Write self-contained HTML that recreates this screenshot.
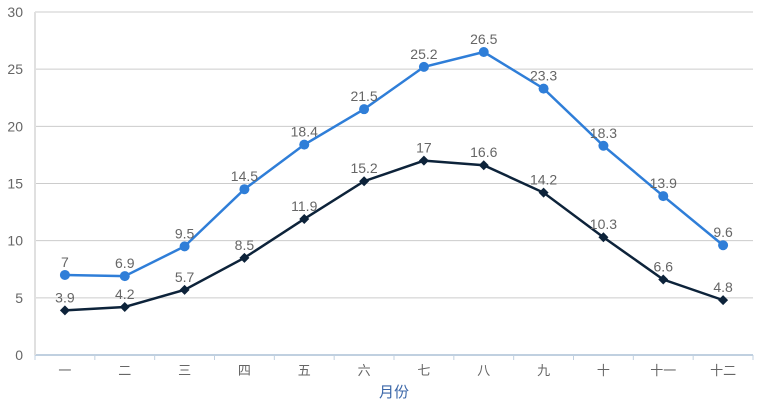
<!DOCTYPE html>
<html><head><meta charset="utf-8"><style>
body{margin:0;background:#fff;}
svg{display:block;font-family:"Liberation Sans","Noto Sans CJK SC",sans-serif;}
</style></head><body>
<svg id="c" width="763" height="402"></svg>
<script>
const categories=["一","二","三","四","五","六","七","八","九","十","十一","十二"];
const highValues=[7,6.9,9.5,14.5,18.4,21.5,25.2,26.5,23.3,18.3,13.9,9.6];
const lowValues=[3.9,4.2,5.7,8.5,11.9,15.2,17,16.6,14.2,10.3,6.6,4.8];
const yTicks=[0,5,10,15,20,25,30];
const NS="http://www.w3.org/2000/svg";
const svg=document.getElementById('c');
const L=35,R=753,T=12,B=355;
const bw=(R-L)/categories.length;
const x=i=>L+bw*(i+0.5);
const y=v=>B-(v/30)*(B-T);
function el(t,a,p){const e=document.createElementNS(NS,t);for(const k in a)e.setAttribute(k,a[k]);(p||svg).appendChild(e);return e;}
yTicks.forEach(t=>{
  const g=el('line',{x1:L,x2:R,y1:y(t),y2:y(t),stroke:'#ccc','stroke-width':1});
  
  
  const tx=el('text',{x:L-12,y:y(t)+5,'text-anchor':'end','font-size':14,fill:'#666'});
  tx.textContent=t;
  
  
});
const ax=el('line',{x1:L,x2:R,y1:B,y2:B,stroke:'#c0d0e0','stroke-width':2});


const ay=el('line',{x1:L,x2:L,y1:T,y2:B,stroke:'#e0e0e0','stroke-width':2});


for(let i=0;i<=categories.length;i++){
  const tk=el('line',{x1:L+bw*i,x2:L+bw*i,y1:B,y2:B+5,stroke:'#c0d0e0','stroke-width':1});
  
  
}
categories.forEach((c,i)=>{
  const t=el('text',{x:x(i),y:B+20,'text-anchor':'middle','font-size':13,fill:'#666'});
  t.textContent=c;
  
  
});
const xt=el('text',{x:(L+R)/2,y:397,'text-anchor':'middle','font-size':15,fill:'#3a66a8'});
xt.textContent='月份';


function series(vals,color,marker,name){
  const p=el('polyline',{points:vals.map((v,i)=>x(i)+','+y(v)).join(' '),fill:'none',stroke:color,'stroke-width':2.5});
  
  
  vals.forEach((v,i)=>{
    let m;
    if(marker==='circle')m=el('circle',{cx:x(i),cy:y(v),r:5,fill:color});
    else{const cx=x(i),cy=y(v);m=el('polygon',{points:`${cx},${cy-5} ${cx+5},${cy} ${cx},${cy+5} ${cx-5},${cy}`,fill:color});}
    
    
    const t=el('text',{x:x(i),y:y(v)-8,'text-anchor':'middle','font-size':14,fill:'#666'});
    t.textContent=v;
    
    
  });
}
series(highValues,'#2f7ed8','circle','high-series');
series(lowValues,'#0d233a','diamond','low-series');
</script>
</body></html>
